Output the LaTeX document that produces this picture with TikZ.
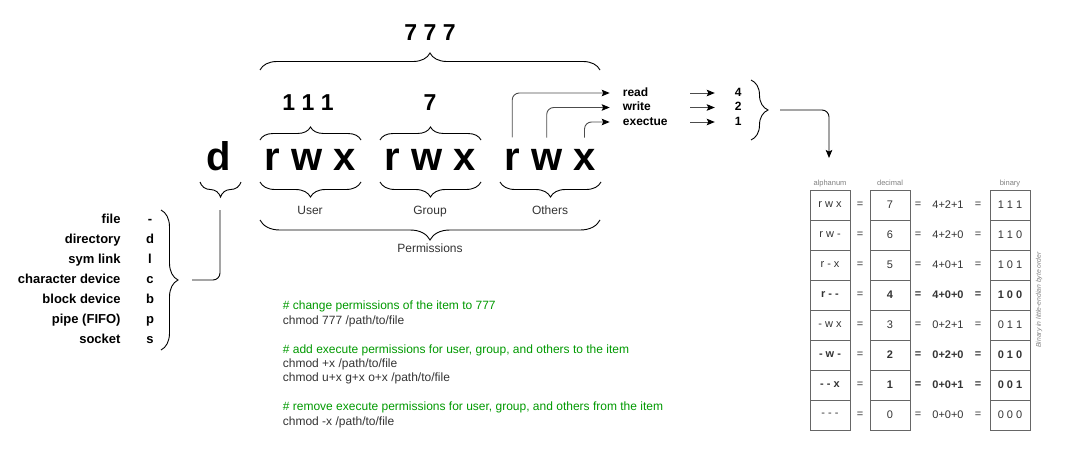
\documentclass[tikz,border=0pt]{standalone}
\usepackage{fontspec}
\setmainfont{Liberation Sans}
\usetikzlibrary{decorations.pathreplacing,arrows.meta}

\definecolor{codegreen}{RGB}{0,153,0}
\definecolor{cellgray}{RGB}{102,102,102}
\definecolor{textgray}{RGB}{51,51,51}

\tikzset{
	bigletter/.style={inner sep=0pt, anchor=base, font=\bfseries\fontsize{40}{48}\selectfont},
	bignumber/.style={inner sep=0pt, anchor=base, font=\bfseries\fontsize{23}{28}\selectfont},
	grouplabel/.style={inner sep=0pt, anchor=base, text=textgray, font=\fontsize{12}{14}\selectfont},
	bitlabel/.style={inner sep=3pt, anchor=west, text width=64pt, text height=8.5pt, text depth=2.5pt, font=\bfseries\fontsize{12}{14}\selectfont},
	bitvalue/.style={inner sep=3pt, text height=8.5pt, text depth=2.5pt, font=\bfseries\fontsize{12}{14}\selectfont},
	typename/.style={inner sep=0pt, anchor=east, text height=9pt, text depth=2.5pt, font=\bfseries\fontsize{13}{15}\selectfont},
	typechar/.style={typename, anchor=center},
	cell/.style={draw=cellgray, line width=0.8pt, minimum width=40pt, minimum height=30pt, inner sep=0pt, text=textgray, font=\fontsize{11}{13}\selectfont},
	eqsign/.style={inner sep=0pt, text=textgray, font=\fontsize{11}{13}\selectfont},
	colhead/.style={inner sep=0pt, text height=5.5pt, text depth=1.5pt, text=gray, font=\fontsize{7.5}{9}\selectfont},
	codeblock/.style={inner sep=0pt, anchor=north west, align=left, text=textgray, font=\fontsize{12}{14.4}\selectfont},
	bracetop/.style={decorate, decoration={brace, amplitude=#1}, line width=0.9pt},
	bracebottom/.style={decorate, decoration={brace, mirror, amplitude=#1}, line width=0.9pt},
	bitarrow/.style={draw=black!70, line width=0.9pt, rounded corners=7pt, -{Stealth[length=8pt,width=6.5pt,inset=1.5pt,black]}},
}

\begin{document}
\begin{tikzpicture}[x=1pt, y=-1pt]
			%%%%% FRAME %%%%%
			\useasboundingbox (0,0) rectangle (1070,450);
			
			%%%%% MODE STRING %%%%%
			\node[bigletter] (d) at (219,170) {d};
			\foreach \g/\c in {u/310, g/430, o/550} {
				\node[bigletter] (\g r) at (\c-37.8,170) {r};
				\node[bigletter] (\g w) at (\c-3.3,170) {w};
				\node[bigletter] (\g x) at (\c+34.5,170) {x};
			}
			
			\node[bignumber] (all) at (430,40) {7 7 7};
			\node[bignumber] (ubits) at (308,110) {1 1 1};
			\node[bignumber] (gnum) at (430,110) {7};
			
			\draw[bracetop=17] (260,70) -- (600,70);
			\draw[bracetop=13] (260,140) -- (361,140);
			\draw[bracetop=13] (380,140) -- (481,140);
			
			\draw[bracebottom=15] (200,182) -- (241,182);
			\draw[bracebottom=15] (260,182) -- (361,182);
			\draw[bracebottom=15] (380,182) -- (481,182);
			\draw[bracebottom=15] (500,182) -- (601,182);
			\draw[bracebottom=20] (260,220) -- (600,220);
			
			\node[grouplabel] (user) at (310,214.5) {User};
			\node[grouplabel] (group) at (430,214.5) {Group};
			\node[grouplabel] (others) at (550,214.5) {Others};
			\node[grouplabel] (perms) at (430,252.5) {Permissions};
			
			%%%%% FILE TYPES %%%%%
			\foreach \t/\c [count=\i] in {file/-, directory/d, sym link/l, character device/c, block device/b, pipe (FIFO)/p, socket/s} {
				\node[typename] (type\i) at (120.7,200+20*\i) {\t};
				\node[typechar] (char\i) at (150,200+20*\i) {\c};
			}
			\draw[bracetop=17] (161,210) -- (161,350);
			
			\coordinate (dlink) at (220,210);
			\coordinate (typelink) at (192,280);
			\draw[line width=0.9pt, rounded corners=7pt] (dlink) |- (typelink);
			
			%%%%% BIT VALUES %%%%%
			\node[bitlabel] (read) at (619.7,93) {read};
			\node[bitlabel] (write) at (619.7,107.5) {write};
			\node[bitlabel] (exec) at (619.7,122) {exectue};
			\node[bitvalue] (val4) at (738.3,93) {4};
			\node[bitvalue] (val2) at (738.3,107.5) {2};
			\node[bitvalue] (val1) at (738.3,122) {1};
			
			\draw[bitarrow, shorten <=11pt, shorten >=10pt] (or.north) |- (read.west);
			\draw[bitarrow, shorten <=11pt, shorten >=10pt] (ow.north) |- (write.west);
			\draw[bitarrow, shorten <=11pt, shorten >=10pt] (ox.north) |- (exec.west);
			
			\draw[bitarrow, shorten >=17pt] (read.east) -- (val4.west);
			\draw[bitarrow, shorten >=17pt] (write.east) -- (val2.west);
			\draw[bitarrow, shorten >=17pt] (exec.east) -- (val1.west);
			
			\draw[bracetop=17] (751,80) -- (751,140);
			\coordinate (bitlink) at (780,110);
			\coordinate (tabletop) at (829,158);
			\draw[line width=0.9pt, rounded corners=7pt, -{Stealth[length=8pt,width=6.5pt,inset=1.5pt]}] (bitlink) -| (tabletop);
			
			%%%%% TABLE %%%%%
			\node[colhead] (halpha) at (830,183) {alphanum};
			\node[colhead] (hdec) at (890,183) {decimal};
			\node[colhead] (hbin) at (1010,183) {binary};
			
			\foreach \a/\n/\e/\b/\f [count=\i from 0] in {r w x/7/4+2+1/1 1 1/\mdseries, r w -/6/4+2+0/1 1 0/\mdseries, r - x/5/4+0+1/1 0 1/\mdseries, r - -/4/4+0+0/1 0 0/\bfseries, - w x/3/0+2+1/0 1 1/\mdseries, - w -/2/0+2+0/0 1 0/\bfseries, - - x/1/0+0+1/0 0 1/\bfseries, - - -/0/0+0+0/0 0 0/\mdseries} {
				\node[cell] (alpha\i) at (830,205+30*\i) {\f\a};
				\node[eqsign] (eqa\i) at (860,205+30*\i) {=};
				\node[cell] (dec\i) at (890,205+30*\i) {\f\n};
				\node[eqsign] (eqb\i) at (918,205+30*\i) {\f=};
				\node[eqsign] (sum\i) at (948,205+30*\i) {\f\e};
				\node[eqsign] (eqc\i) at (978,205+30*\i) {\f=};
				\node[cell] (bin\i) at (1010,205+30*\i) {\f\b};
			}
			
			\node[rotate=90, inner sep=0pt, text=gray, font=\itshape\fontsize{6.8}{8}\selectfont] (note) at (1039,300) {Binary in little-endian byte order};
			
			%%%%% CHMOD EXAMPLES %%%%%
			\node[codeblock] (code) at (282.7,301) {%
				\textcolor{codegreen}{\# change permissions of the item to 777}\\
				chmod 777 /path/to/file\\[14.4pt]
				\textcolor{codegreen}{\# add execute permissions for user, group, and others to the item}\\
				chmod +x /path/to/file\\
				chmod u+x g+x o+x /path/to/file\\[14.4pt]
				\textcolor{codegreen}{\# remove execute permissions for user, group, and others from the item}\\
				chmod -x /path/to/file};
		\end{tikzpicture}
\end{document}
